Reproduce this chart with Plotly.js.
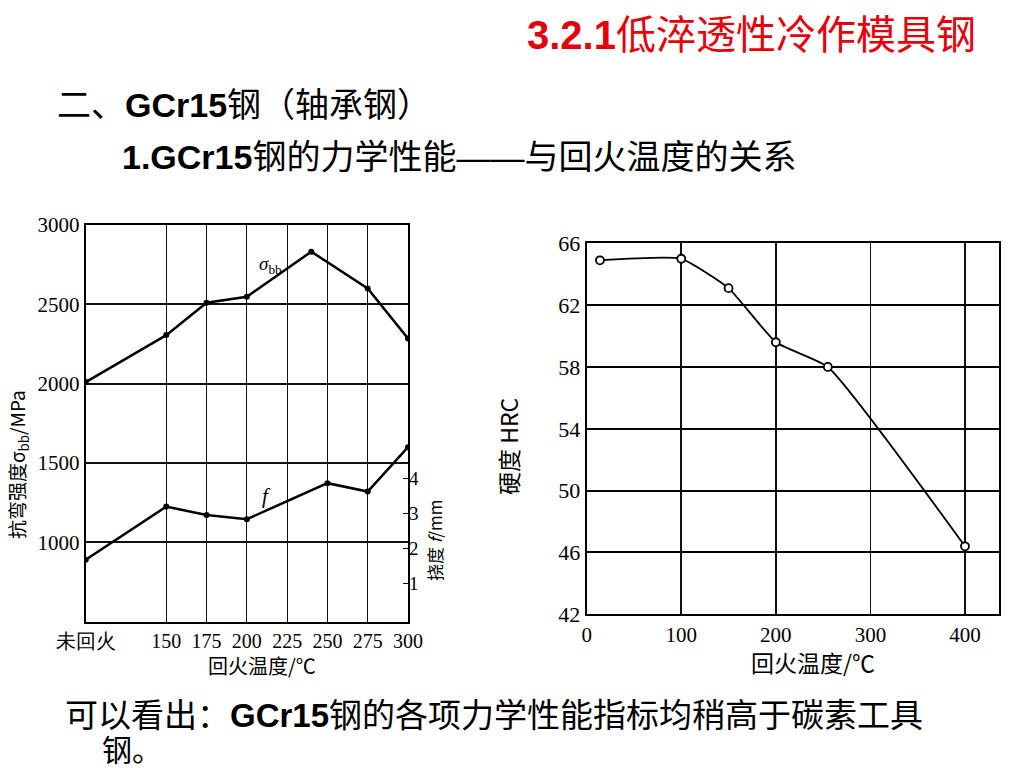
<!DOCTYPE html>
<html><head><meta charset="utf-8">
<script src="https://cdn.plot.ly/plotly-3.0.1.min.js"></script>
<style>html,body{margin:0;padding:0;background:#fff;}#chart{width:1024px;height:768px;}</style>
</head><body><div id="chart"></div>
<script>
// Left chart: bending strength and deflection vs tempering temperature
const leftTemps = [100, 150, 175, 200, 240, 275, 300];
const strengthMPa = [2010, 2306, 2510, 2548, 2832, 2600, 2285];
const deflTemps = [100, 150, 175, 200, 250, 275, 300];
const deflectionMM = [1.67, 3.19, 2.95, 2.83, 3.86, 3.62, 4.89];
const leftTickVals = [100, 150, 175, 200, 225, 250, 275, 300];
const leftTickText = ['未回火', '150', '175', '200', '225', '250', '275', '300'];
const strengthTicks = [1000, 1500, 2000, 2500, 3000];
const deflTicks = [1, 2, 3, 4];
// Right chart: hardness vs tempering temperature
const hardTemps = [14, 100, 150, 200, 255, 400];
const hardnessHRC = [64.9, 65.0, 63.1, 59.6, 58.0, 46.4];
const hardXTicks = [0, 100, 200, 300, 400];
const hardYTicks = [42, 46, 50, 54, 58, 62, 66];

const W = 1024, H = 768;
const px = x => x / W, py = y => 1 - y / H;
const serif = 'Liberation Serif, DejaVu Serif, serif';
const cjk = 'Noto Sans CJK SC, sans-serif';
const sans = 'Liberation Sans, Noto Sans CJK SC, sans-serif';

const traces = [
  {x: leftTemps, y: strengthMPa, xaxis: 'x', yaxis: 'y', mode: 'lines+markers',
   line: {color: '#000', width: 2.5}, marker: {color: '#000', size: 6}, showlegend: false, hoverinfo: 'skip'},
  {x: deflTemps, y: deflectionMM, xaxis: 'x', yaxis: 'y2', mode: 'lines+markers',
   line: {color: '#000', width: 2.5}, marker: {color: '#000', size: 6}, showlegend: false, hoverinfo: 'skip'},
  {x: hardTemps, y: hardnessHRC, xaxis: 'x3', yaxis: 'y3', mode: 'lines+markers',
   line: {color: '#000', width: 1.8, shape: 'spline', smoothing: 0.45},
   marker: {color: '#fff', size: 8, line: {color: '#000', width: 1.8}}, showlegend: false, hoverinfo: 'skip'}
];

const tickFont = {family: serif, size: 21, color: '#000'};
function ann(text, x, y, size, opts) {
  return Object.assign({text: text, x: px(x), y: py(y), xref: 'paper', yref: 'paper',
    xanchor: 'center', yanchor: 'middle', showarrow: false,
    font: {family: cjk, size: size, color: '#000'}}, opts || {});
}
const layout = {
  width: W, height: H, margin: {l: 0, r: 0, t: 0, b: 0},
  paper_bgcolor: '#fff', plot_bgcolor: '#fff', showlegend: false,
  xaxis: {domain: [px(85.7), px(408)], range: [100, 300], tickvals: leftTickVals, ticktext: leftTickText,
    showgrid: true, gridcolor: '#111', gridwidth: 1.2, showline: true, linecolor: '#000', linewidth: 2,
    mirror: true, ticks: '', tickfont: {family: serif, size: 20, color: '#000'}, zeroline: false, anchor: 'y'},
  yaxis: {domain: [py(621.7), py(225)], range: [500, 3000], tickvals: strengthTicks,
    showgrid: true, gridcolor: '#111', gridwidth: 1.8, showline: true, linecolor: '#000', linewidth: 2,
    mirror: true, ticks: '', tickfont: tickFont, zeroline: false, anchor: 'x'},
  yaxis2: {overlaying: 'y', side: 'right', anchor: 'x', range: [-0.1, 11.24], tickvals: deflTicks,
    showgrid: false, ticks: 'inside', ticklen: 5, tickcolor: '#000', showline: false, zeroline: false,
    tickfont: {family: serif, size: 19, color: '#000'}},
  xaxis3: {domain: [px(586.7), px(999)], range: [0, 436], tickvals: hardXTicks, anchor: 'y3',
    showgrid: true, gridcolor: '#111', gridwidth: 1.6, showline: true, linecolor: '#000', linewidth: 2,
    mirror: true, ticks: '', tickfont: tickFont, zeroline: false},
  yaxis3: {domain: [py(614.3), py(243.3)], range: [42, 66], tickvals: hardYTicks, anchor: 'x3',
    showgrid: true, gridcolor: '#000', gridwidth: 2, showline: true, linecolor: '#000', linewidth: 2,
    mirror: true, ticks: '', tickfont: {family: serif, size: 22, color: '#000'}, zeroline: false},
  annotations: [
    ann('<b>3.2.1</b>低淬透性冷作模具钢', 525, 35, 40, {xanchor: 'left', font: {family: sans, size: 40, color: '#e6000a'}}),
    ann('二、<b>GCr15</b>钢（轴承钢）', 55, 105, 34, {xanchor: 'left', font: {family: sans, size: 34, color: '#000'}}),
    ann('<b>1.GCr15</b>钢的力学性能——与回火温度的关系', 120, 157, 34, {xanchor: 'left', font: {family: sans, size: 34, color: '#000'}}),
    ann('可以看出：<b>GCr15</b>钢的各项力学性能指标均稍高于碳素工具', 63, 715, 33, {xanchor: 'left', font: {family: sans, size: 33, color: '#000'}}),
    ann('钢。', 100, 750, 30, {xanchor: 'left', font: {family: sans, size: 30, color: '#000'}}),
    // left chart titles
    ann('回火温度/℃', 262, 665, 20),
    ann('抗弯强度σ<sub>bb</sub>/MPa', 18, 465, 19, {textangle: -90}),
    ann('挠度 <i>f</i>/mm', 434, 540, 17, {textangle: -90}),
    ann('<i>σ</i><sub>bb</sub>', 270, 265, 19, {font: {family: serif, size: 19, color: '#000'}}),
    ann('<i>f</i>', 266, 496, 21, {font: {family: serif, size: 21, color: '#000'}}),
    // right chart titles
    ann('回火温度/℃', 813, 662, 23),
    ann('硬度 HRC', 508, 447, 23, {textangle: -90})
  ]
};
Plotly.newPlot('chart', traces, layout, {displayModeBar: false, staticPlot: true});
</script></body></html>
